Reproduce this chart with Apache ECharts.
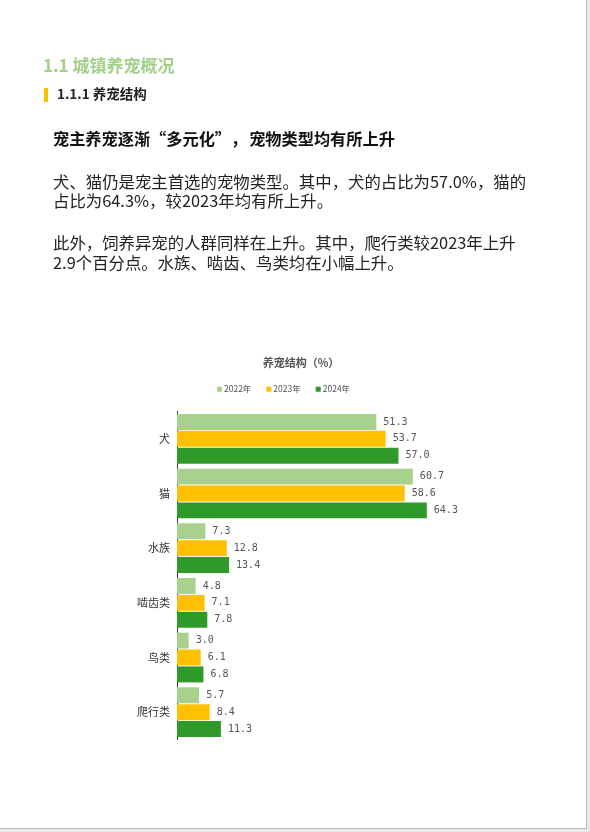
<!DOCTYPE html>
<html><head><meta charset="utf-8">
<script src="https://cdn.jsdelivr.net/npm/echarts@6/dist/echarts.min.js"></script>
<style>
html,body{margin:0;padding:0;background:#e9e9e9;}
#page{position:absolute;left:0;top:0;width:586px;height:828px;background:#fff;border-right:1px solid #bdbdbd;border-bottom:1px solid #bdbdbd;overflow:hidden;font-family:"Noto Sans CJK SC","Noto Sans",sans-serif;}
#chart{position:absolute;left:0;top:0;width:586px;height:828px;}
.t{position:absolute;white-space:nowrap;line-height:1;}
</style></head>
<body><div id="page">
<div id="chart"></div>
<div class="t" style="left:43px;top:56px;font-size:17px;font-weight:bold;color:#a3cf89;">1.1 城镇养宠概况</div>
<div style="position:absolute;left:44px;top:88px;width:4px;height:14px;background:#f5c400;"></div>
<div class="t" style="left:57px;top:87px;font-size:13.5px;font-weight:bold;color:#222;">1.1.1 养宠结构</div>
<div class="t" style="left:53px;top:130px;font-size:16.2px;font-weight:bold;color:#111;">宠主养宠逐渐“多元化”<span style="margin-left:8px;margin-right:2px;">，</span>宠物类型均有所上升</div>
<div class="t" style="left:53px;top:173px;font-size:16.4px;color:#222;">犬、猫仍是宠主首选的宠物类型。其中，犬的占比为57.0%，猫的</div>
<div class="t" style="left:53px;top:192px;font-size:16.4px;color:#222;">占比为64.3%，较2023年均有所上升。</div>
<div class="t" style="left:53px;top:234px;font-size:16.4px;color:#222;">此外，饲养异宠的人群同样在上升。其中，爬行类较2023年上升</div>
<div class="t" style="left:53px;top:254px;font-size:16.4px;color:#222;">2.9个百分点。水族、啮齿、鸟类均在小幅上升。</div>
</div>
<script>
const categories = ['犬','猫','水族','啮齿类','鸟类','爬行类'];
const seriesNames = ['2022年','2023年','2024年'];
const v2022 = [51.3, 60.7, 7.3, 4.8, 3.0, 5.7];
const v2023 = [53.7, 58.6, 12.8, 7.1, 6.1, 8.4];
const v2024 = [57.0, 64.3, 13.4, 7.8, 6.8, 11.3];
const colors = ['#a9d18e','#ffc000','#2f9a2a'];

const chart = echarts.init(document.getElementById('chart'));
const mk = (name, data, i) => ({
  name, type:'bar', data,
  barGap:'6%', barCategoryGap:'9%',
  itemStyle:{color:colors[i]},
  label:{show:true, position:'right', distance:7, color:'#555', fontSize:10,
    fontFamily:'"DejaVu Sans Mono","Liberation Mono",monospace',
    formatter:p=>p.value.toFixed(1)}
});
chart.setOption({
  animation:false,
  title:{text:'养宠结构（%）', left:296, top:352, textAlign:'center',
    textStyle:{fontSize:11, fontWeight:'bold', color:'#555', fontFamily:'"Noto Sans CJK SC",sans-serif'}},
  legend:{data:seriesNames, left:212, top:380, itemWidth:5, itemHeight:5, itemGap:15, icon:'rect',
    textStyle:{fontSize:8.5, color:'#555', padding:[0,0,0,-3], fontFamily:'"Noto Sans CJK SC",sans-serif'}},
  grid:{left:177, top:411.5, width:272, height:328},
  xAxis:{type:'value', min:0, max:70, show:false},
  yAxis:{type:'category', data:categories, inverse:true,
    axisLine:{show:true, lineStyle:{color:'#333', width:1}},
    axisTick:{show:false},
    axisLabel:{fontSize:11, color:'#333', margin:7, fontFamily:'"Noto Sans CJK SC",sans-serif'}},
  series:[mk(seriesNames[0], v2022, 0), mk(seriesNames[1], v2023, 1), mk(seriesNames[2], v2024, 2)]
});
</script>
</body></html>
